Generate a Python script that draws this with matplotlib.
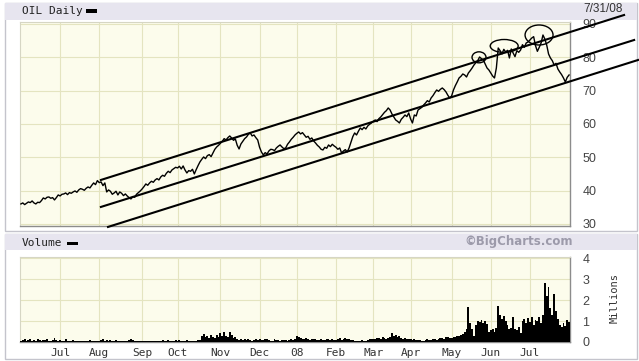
import pandas as pd
import matplotlib
matplotlib.use("Agg")
from matplotlib import pyplot
from matplotlib import patches

# trading days Jun 2007 - Jul 2008
holidays = ['2007-07-04', '2007-09-03', '2007-11-22', '2007-12-25', '2008-01-01',
            '2008-01-21', '2008-02-18', '2008-03-21', '2008-05-26', '2008-07-04']

# daily closes (one line per month)
closes = [
    36.0, 36.3, 35.8, 36.2, 36.6, 36.4, 36.9, 36.3, 36.0, 36.5, 36.4, 37.0, 37.8, 37.5, 38.0, 38.1, 37.7, 37.9, 37.2, 37.9, 38.7,
    38.4, 38.9, 39.0, 39.3, 38.8, 39.4, 39.2, 39.6, 39.9, 39.5, 40.2, 40.6, 40.4, 40.1, 40.7, 41.1, 40.8, 41.6, 42.3, 41.8, 43.0,
    42.4, 42.6, 41.5, 42.3, 39.6, 40.2, 39.8, 38.9, 39.3, 39.8, 38.7, 39.6, 39.2, 38.5, 39.0, 38.4, 37.9, 37.5, 38.2, 38.0, 38.9, 39.4, 39.9,
    40.5, 41.2, 42.0, 41.6, 42.3, 42.8, 42.5, 43.2, 43.6, 43.2, 44.1, 44.6, 44.3, 45.2, 45.8, 45.4, 46.2, 46.6, 47.0,
    46.8, 47.3, 46.5, 47.4, 46.2, 45.3, 46.0, 45.8, 46.4, 45.0, 46.3, 47.5, 48.6, 49.4, 50.1, 49.6, 50.5, 50.8, 50.2, 51.3, 52.4, 53.1, 53.6,
    54.2, 54.8, 55.6, 55.2, 55.9, 56.4, 55.8, 55.1, 55.5, 53.6, 52.5, 54.0, 54.8, 55.6, 56.1, 56.9, 57.3, 56.4, 56.7, 55.9, 55.2,
    53.0, 51.6, 50.7, 51.4, 51.0, 51.9, 52.4, 52.3, 52.0, 52.8, 53.3, 53.7, 53.1, 52.6, 52.8, 53.9, 54.6, 55.4, 56.0, 56.7,
    57.2, 57.6, 57.0, 57.4, 56.7, 56.0, 56.3, 55.4, 55.8, 54.9, 54.3, 53.6, 53.1, 52.4, 52.2, 53.0, 52.7, 53.7, 53.2, 53.9, 53.4,
    53.0, 52.4, 52.8, 51.3, 51.9, 52.3, 51.6, 52.8, 54.5, 56.2, 57.3, 56.7, 57.8, 58.8, 58.3, 59.0, 58.5, 59.4, 59.9, 60.3,
    60.8, 61.2, 60.7, 61.6, 62.1, 62.8, 63.5, 64.0, 64.8, 64.2, 63.0, 62.1, 61.2, 60.8, 60.3, 61.4, 62.0, 62.7, 62.2, 63.3,
    61.5, 60.3, 62.7, 62.4, 64.2, 64.6, 65.0, 65.7, 66.3, 67.0, 66.6, 67.8, 68.5, 69.4, 70.2, 69.8, 70.4, 70.8, 70.3, 69.6, 68.6, 67.8,
    68.4, 70.2, 71.5, 72.6, 73.8, 74.3, 75.0, 74.7, 74.1, 75.3, 76.0, 76.8, 77.7, 78.4, 79.0, 80.1, 79.6, 79.2, 78.0, 76.8, 76.2,
    75.3, 74.4, 73.8, 76.8, 82.8, 82.0, 81.0, 82.4, 81.6, 82.1, 79.8, 82.5, 81.3, 80.2, 82.0, 81.5, 82.2, 83.8, 83.0, 84.3, 84.6,
    85.2, 85.8, 86.2, 83.5, 81.8, 83.0, 84.3, 86.7, 85.5, 83.7, 81.0, 79.8, 79.0, 77.7, 78.2, 76.5, 75.6, 74.8, 73.8, 72.6, 74.0, 74.7,
]

# daily volume, millions
volumes = [
    0.06, 0.08, 0.12, 0.05, 0.09, 0.14, 0.07, 0.10, 0.06, 0.15, 0.08, 0.05, 0.11, 0.09, 0.13, 0.07, 0.06, 0.10, 0.18, 0.08, 0.06,
    0.09, 0.05, 0.07, 0.12, 0.06, 0.04, 0.05, 0.08, 0.06, 0.04, 0.03, 0.05, 0.05, 0.07, 0.04, 0.06, 0.09, 0.05, 0.03, 0.04, 0.06,
    0.05, 0.08, 0.13, 0.06, 0.10, 0.07, 0.08, 0.05, 0.06, 0.09, 0.07, 0.05, 0.04, 0.06, 0.05, 0.07, 0.10, 0.12, 0.08, 0.06, 0.05, 0.04, 0.03,
    0.04, 0.03, 0.05, 0.04, 0.06, 0.05, 0.04, 0.03, 0.05, 0.04, 0.06, 0.08, 0.05, 0.07, 0.09, 0.06, 0.05, 0.07, 0.08,
    0.06, 0.08, 0.07, 0.05, 0.06, 0.09, 0.07, 0.06, 0.05, 0.04, 0.06, 0.08, 0.10, 0.30, 0.38, 0.22, 0.28, 0.18, 0.35, 0.24, 0.20, 0.31, 0.26,
    0.42, 0.30, 0.50, 0.28, 0.22, 0.46, 0.33, 0.18, 0.25, 0.12, 0.10, 0.15, 0.08, 0.12, 0.09, 0.14, 0.10, 0.07, 0.11, 0.13, 0.09,
    0.12, 0.08, 0.10, 0.15, 0.12, 0.09, 0.07, 0.07, 0.13, 0.10, 0.08, 0.06, 0.09, 0.11, 0.08, 0.06, 0.10, 0.12, 0.09, 0.14,
    0.30, 0.22, 0.18, 0.12, 0.15, 0.20, 0.14, 0.10, 0.13, 0.16, 0.12, 0.09, 0.11, 0.14, 0.10, 0.08, 0.12, 0.15, 0.10, 0.13, 0.11,
    0.10, 0.12, 0.18, 0.09, 0.14, 0.20, 0.16, 0.12, 0.08, 0.10, 0.06, 0.05, 0.07, 0.06, 0.08, 0.05, 0.07, 0.10, 0.12, 0.14,
    0.12, 0.15, 0.18, 0.20, 0.16, 0.22, 0.19, 0.14, 0.18, 0.25, 0.45, 0.28, 0.35, 0.22, 0.30, 0.18, 0.15, 0.20, 0.16, 0.12,
    0.14, 0.10, 0.12, 0.08, 0.10, 0.09, 0.07, 0.06, 0.09, 0.12, 0.08, 0.10, 0.15, 0.12, 0.09, 0.13, 0.18, 0.20, 0.16, 0.22, 0.25, 0.19,
    0.20, 0.25, 0.22, 0.30, 0.28, 0.35, 0.40, 0.48, 0.62, 1.65, 0.90, 0.60, 0.30, 0.80, 1.00, 0.95, 1.05, 0.90, 1.00, 0.85, 0.50,
    0.55, 0.60, 0.50, 0.65, 1.70, 1.30, 1.10, 1.25, 1.00, 0.80, 0.60, 0.65, 1.20, 0.60, 0.55, 0.70, 0.45, 1.00, 1.10, 0.90, 1.15,
    0.95, 1.20, 0.80, 1.05, 1.00, 1.20, 0.90, 1.30, 2.80, 2.20, 2.60, 1.60, 1.30, 2.30, 1.50, 1.10, 0.80, 0.70, 0.90, 0.75, 1.05, 0.95,
]

month_labels = ['Jul', 'Aug', 'Sep', 'Oct', 'Nov', 'Dec', '08', 'Feb', 'Mar', 'Apr', 'May', 'Jun', 'Jul']
price_ticks = [30, 40, 50, 60, 70, 80, 90]
volume_ticks = [0, 1, 2, 3, 4]

# channel lines (trading day index, price)
channel_lines = [((42.9, 43.2), (323.5, 92.7)),
                 ((42.9, 35.1), (328.9, 85.2)),
                 ((46.7, 29.1), (331.0, 79.2))]
# circled tops (center day, center price, width days, height price)
circles = [(245.7, 80.0, 7.5, 3.3), (259.2, 83.4, 15.0, 3.9), (277.9, 86.7, 15.0, 6.0)]

days = pd.bdate_range('2007-06-01', '2008-07-31')
days = days[~days.isin(pd.to_datetime(holidays))]
idx = list(range(len(days)))
month_start = [i for i in range(1, len(days)) if days[i].month != days[i - 1].month]

W, H = 639.0, 361.0
def fx(x):
    return x / W
def fy(y):
    return 1 - y / H

fig = pyplot.figure(figsize=(6.39, 3.61), dpi=100)
fig.patch.set_facecolor('white')

band = '#e7e5ef'
frame = '#c4c4cc'
# panel frames and header bands
fig.add_artist(patches.Rectangle((fx(5), fy(231)), fx(632), 228 / H, transform=fig.transFigure,
                                 facecolor='white', edgecolor=frame, linewidth=1, zorder=0))
fig.add_artist(patches.Rectangle((fx(5), fy(20)), fx(632), 17 / H, transform=fig.transFigure,
                                 facecolor=band, edgecolor='none', zorder=0))
fig.add_artist(patches.Rectangle((fx(5), fy(359)), fx(632), 125 / H, transform=fig.transFigure,
                                 facecolor='white', edgecolor=frame, linewidth=1, zorder=0))
fig.add_artist(patches.Rectangle((fx(5), fy(250)), fx(632), 16 / H, transform=fig.transFigure,
                                 facecolor=band, edgecolor='none', zorder=0))

plot_bg = '#fcfcec'
grid_col = '#e4e4c0'

def style_axes(ax):
    ax.set_facecolor(plot_bg)
    ax.set_xlim(-0.5, len(days) - 0.5)
    ax.set_xticks(month_start)
    ax.grid(True, color=grid_col, linewidth=0.8, zorder=0)
    ax.set_axisbelow(True)
    ax.yaxis.tick_right()
    ax.tick_params(axis='both', length=0, labelsize=9, labelcolor='#444444')
    ax.tick_params(axis='y', pad=9)
    for s in ['left', 'top']:
        ax.spines[s].set_color('#d6d6c4')
        ax.spines[s].set_linewidth(0.8)
    for s in ['right', 'bottom']:
        ax.spines[s].set_color('#8c8c8c')
        ax.spines[s].set_linewidth(1.0)

# price panel
ax = fig.add_axes([fx(20), fy(225.6), fx(550), 203.6 / H])
style_axes(ax)
ax.set_ylim(29.5, 90.6)
ax.set_yticks(price_ticks)
ax.set_yticklabels([str(t) for t in price_ticks], family='Liberation Sans')
ax.tick_params(axis='x', labelbottom=False)
ax.plot(idx, closes, color='black', linewidth=1.0, zorder=3)

for (x0, y0), (x1, y1) in channel_lines:
    ax.plot([x0, x1], [y0, y1], color='black', linewidth=1.5, clip_on=False, zorder=4)
for cx, cy, w, h in circles:
    ax.add_patch(patches.Ellipse((cx, cy), w, h, fill=False, edgecolor='black', linewidth=1.0,
                                 clip_on=False, zorder=4))

# volume panel
ax_v = fig.add_axes([fx(20), fy(342), fx(550), 85 / H])
style_axes(ax_v)
ax_v.set_ylim(0, 4.05)
ax_v.set_yticks(volume_ticks)
ax_v.set_yticklabels([str(t) for t in volume_ticks], family='Liberation Sans')
ax_v.set_xticklabels(month_labels, family='DejaVu Sans Mono', fontsize=8, color='#333333')
ax_v.tick_params(axis='x', pad=4)
ax_v.bar(idx, volumes, width=1.0, color='black', linewidth=0, zorder=3)

# header texts
fig.text(fx(22), fy(11), 'OIL Daily', family='DejaVu Sans Mono', fontsize=8, color='#222222', va='center')
fig.add_artist(patches.Rectangle((fx(86), fy(12.5)), fx(11), 3 / H, transform=fig.transFigure,
                                 facecolor='black', edgecolor='none'))
fig.text(fx(603), fy(9), '7/31/08', family='Liberation Sans', fontsize=8.5, color='#333333',
         ha='center', va='center')
fig.text(fx(22), fy(243), 'Volume', family='DejaVu Sans Mono', fontsize=8, color='#222222', va='center')
fig.add_artist(patches.Rectangle((fx(67), fy(244.5)), fx(11), 3 / H, transform=fig.transFigure,
                                 facecolor='black', edgecolor='none'))
fig.text(fx(519), fy(241), '\u00a9BigCharts.com', family='DejaVu Sans', fontweight='bold', fontsize=8.5,
         color='#9c9aaa', ha='center', va='center')
fig.text(fx(615), fy(298), 'Millions', family='DejaVu Sans Mono', fontsize=7.5, color='#333333',
         rotation=90, ha='center', va='center')

pyplot.savefig('out.png', dpi=100)
